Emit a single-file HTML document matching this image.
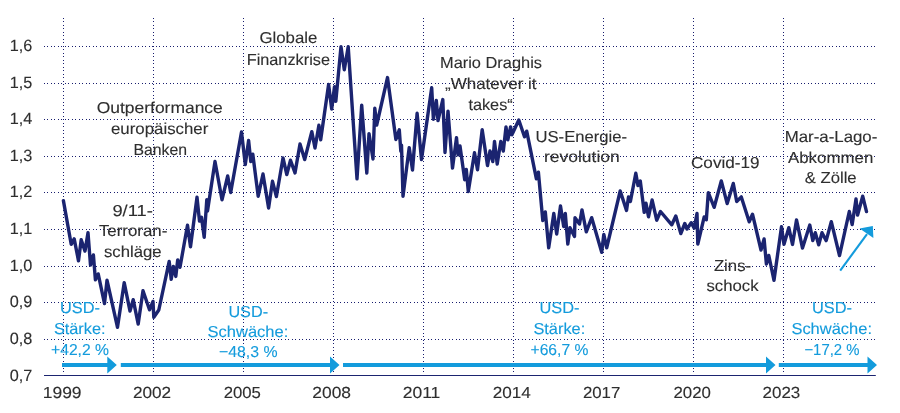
<!DOCTYPE html><html lang="de"><head><meta charset="utf-8"><title>EUR/USD</title>
<style>html,body{margin:0;padding:0;background:#fff}svg{display:block}text{font-family:"Liberation Sans",sans-serif;text-rendering:geometricPrecision;stroke-width:0.12px;paint-order:stroke}</style></head><body>
<svg width="900" height="413" viewBox="0 0 900 413">
<rect width="900" height="413" fill="#fff"/>
<g stroke="#181d6e" stroke-width="1" stroke-dasharray="1 2.5" fill="none" shape-rendering="crispEdges">
<line x1="44" y1="46.5" x2="875.5" y2="46.5" stroke-dasharray="1 2.488"/>
<line x1="44" y1="83.5" x2="875.5" y2="83.5" stroke-dasharray="1 2.488"/>
<line x1="44" y1="119.5" x2="875.5" y2="119.5" stroke-dasharray="1 2.488"/>
<line x1="44" y1="156.5" x2="875.5" y2="156.5" stroke-dasharray="1 2.488"/>
<line x1="44" y1="192.5" x2="875.5" y2="192.5" stroke-dasharray="1 2.488"/>
<line x1="44" y1="229.5" x2="875.5" y2="229.5" stroke-dasharray="1 2.488"/>
<line x1="44" y1="266.5" x2="875.5" y2="266.5" stroke-dasharray="1 2.488"/>
<line x1="44" y1="302.5" x2="875.5" y2="302.5" stroke-dasharray="1 2.488"/>
<line x1="44" y1="339.5" x2="875.5" y2="339.5" stroke-dasharray="1 2.488"/>
<line x1="63.5" y1="17.75" x2="63.5" y2="376"/>
<line x1="153.5" y1="17.75" x2="153.5" y2="376"/>
<line x1="243.5" y1="17.75" x2="243.5" y2="376"/>
<line x1="333.5" y1="17.75" x2="333.5" y2="376"/>
<line x1="423.5" y1="17.75" x2="423.5" y2="376"/>
<line x1="513.5" y1="17.75" x2="513.5" y2="376"/>
<line x1="603.5" y1="17.75" x2="603.5" y2="376"/>
<line x1="693.5" y1="17.75" x2="693.5" y2="376"/>
<line x1="783.5" y1="17.75" x2="783.5" y2="376"/>
</g>
<line x1="44" y1="375.45" x2="875.8" y2="375.45" stroke="#1b2470" stroke-width="1.15"/>
<g fill="#2e2e2e" stroke="#2e2e2e">
<text x="9.70" y="51.00" font-size="16.3" textLength="22.60" lengthAdjust="spacingAndGlyphs">1,6</text>
<text x="9.70" y="88.00" font-size="16.3" textLength="22.60" lengthAdjust="spacingAndGlyphs">1,5</text>
<text x="9.70" y="124.00" font-size="16.3" textLength="22.60" lengthAdjust="spacingAndGlyphs">1,4</text>
<text x="9.70" y="161.00" font-size="16.3" textLength="22.60" lengthAdjust="spacingAndGlyphs">1,3</text>
<text x="9.70" y="197.00" font-size="16.3" textLength="22.60" lengthAdjust="spacingAndGlyphs">1,2</text>
<text x="9.70" y="234.00" font-size="16.3" textLength="22.60" lengthAdjust="spacingAndGlyphs">1,1</text>
<text x="9.70" y="271.00" font-size="16.3" textLength="22.60" lengthAdjust="spacingAndGlyphs">1,0</text>
<text x="9.70" y="307.00" font-size="16.3" textLength="22.60" lengthAdjust="spacingAndGlyphs">0,9</text>
<text x="9.70" y="344.00" font-size="16.3" textLength="22.60" lengthAdjust="spacingAndGlyphs">0,8</text>
<text x="9.70" y="380.50" font-size="16.3" textLength="22.60" lengthAdjust="spacingAndGlyphs">0,7</text>
<text x="42.70" y="398.35" font-size="16.0" textLength="38.89" lengthAdjust="spacingAndGlyphs">1999</text>
<text x="132.90" y="398.35" font-size="16.0" textLength="38.19" lengthAdjust="spacingAndGlyphs">2002</text>
<text x="223.70" y="398.35" font-size="16.0" textLength="37.19" lengthAdjust="spacingAndGlyphs">2005</text>
<text x="312.30" y="398.35" font-size="16.0" textLength="38.69" lengthAdjust="spacingAndGlyphs">2008</text>
<text x="402.70" y="398.35" font-size="16.0" textLength="37.61" lengthAdjust="spacingAndGlyphs">2011</text>
<text x="492.70" y="398.35" font-size="16.0" textLength="38.09" lengthAdjust="spacingAndGlyphs">2014</text>
<text x="582.90" y="398.35" font-size="16.0" textLength="37.39" lengthAdjust="spacingAndGlyphs">2017</text>
<text x="673.50" y="398.35" font-size="16.0" textLength="37.39" lengthAdjust="spacingAndGlyphs">2020</text>
<text x="762.60" y="398.35" font-size="16.0" textLength="37.69" lengthAdjust="spacingAndGlyphs">2023</text>
<text x="96.70" y="113.05" font-size="15.85" textLength="126.11" lengthAdjust="spacingAndGlyphs">Outperformance</text>
<text x="111.00" y="133.85" font-size="15.85" textLength="97.32" lengthAdjust="spacingAndGlyphs">europäischer</text>
<text x="133.40" y="154.65" font-size="15.85" textLength="53.63" lengthAdjust="spacingAndGlyphs">Banken</text>
<text x="112.40" y="215.75" font-size="15.85" textLength="40.40" lengthAdjust="spacingAndGlyphs">9/11-</text>
<text x="98.90" y="236.25" font-size="15.85" textLength="68.43" lengthAdjust="spacingAndGlyphs">Terroran-</text>
<text x="103.90" y="256.75" font-size="15.85" textLength="57.73" lengthAdjust="spacingAndGlyphs">schläge</text>
<text x="259.40" y="43.45" font-size="15.85" textLength="57.93" lengthAdjust="spacingAndGlyphs">Globale</text>
<text x="246.70" y="64.65" font-size="15.85" textLength="83.27" lengthAdjust="spacingAndGlyphs">Finanzkrise</text>
<text x="440.00" y="68.45" font-size="15.85" textLength="101.99" lengthAdjust="spacingAndGlyphs">Mario Draghis</text>
<text x="445.00" y="89.25" font-size="15.85" textLength="91.60" lengthAdjust="spacingAndGlyphs">„Whatever it</text>
<text x="468.40" y="109.65" font-size="15.85" textLength="44.37" lengthAdjust="spacingAndGlyphs">takes“</text>
<text x="535.50" y="142.15" font-size="15.85" textLength="91.54" lengthAdjust="spacingAndGlyphs">US-Energie-</text>
<text x="543.90" y="162.45" font-size="15.85" textLength="75.92" lengthAdjust="spacingAndGlyphs">revolution</text>
<text x="691.00" y="168.05" font-size="15.85" textLength="68.54" lengthAdjust="spacingAndGlyphs">Covid-19</text>
<text x="713.90" y="270.75" font-size="15.85" textLength="37.24" lengthAdjust="spacingAndGlyphs">Zins-</text>
<text x="706.40" y="291.25" font-size="15.85" textLength="52.16" lengthAdjust="spacingAndGlyphs">schock</text>
<text x="784.70" y="142.45" font-size="15.85" textLength="92.64" lengthAdjust="spacingAndGlyphs">Mar-a-Lago-</text>
<text x="788.00" y="162.95" font-size="15.85" textLength="85.26" lengthAdjust="spacingAndGlyphs">Abkommen</text>
<text x="804.70" y="183.45" font-size="15.85" textLength="51.94" lengthAdjust="spacingAndGlyphs">&amp; Zölle</text>
</g>
<g fill="#139bdc" stroke="#139bdc">
<text x="60.00" y="312.95" font-size="15.85" textLength="39.99" lengthAdjust="spacingAndGlyphs">USD-</text>
<text x="53.90" y="333.75" font-size="15.85" textLength="51.67" lengthAdjust="spacingAndGlyphs">Stärke:</text>
<text x="51.00" y="354.65" font-size="15.85" textLength="58.04" lengthAdjust="spacingAndGlyphs">+42,2 %</text>
<text x="228.40" y="316.65" font-size="15.85" textLength="39.69" lengthAdjust="spacingAndGlyphs">USD-</text>
<text x="207.50" y="337.05" font-size="15.85" textLength="80.83" lengthAdjust="spacingAndGlyphs">Schwäche:</text>
<text x="218.90" y="357.25" font-size="15.85" textLength="58.64" lengthAdjust="spacingAndGlyphs">−48,3 %</text>
<text x="539.40" y="312.95" font-size="15.85" textLength="40.09" lengthAdjust="spacingAndGlyphs">USD-</text>
<text x="533.40" y="333.75" font-size="15.85" textLength="51.87" lengthAdjust="spacingAndGlyphs">Stärke:</text>
<text x="530.50" y="354.65" font-size="15.85" textLength="57.84" lengthAdjust="spacingAndGlyphs">+66,7 %</text>
<text x="811.90" y="312.95" font-size="15.85" textLength="40.09" lengthAdjust="spacingAndGlyphs">USD-</text>
<text x="791.40" y="333.75" font-size="15.85" textLength="80.63" lengthAdjust="spacingAndGlyphs">Schwäche:</text>
<text x="804.40" y="354.65" font-size="15.85" textLength="55.13" lengthAdjust="spacingAndGlyphs">−17,2 %</text>
</g>
<path d="M62 363.1H107.3V356.5L116.8 365.0L107.3 373.5V366.9H62Z" fill="#139bdc"/>
<path d="M120.8 363.1H330.0V356.5L339.5 365.0L330.0 373.5V366.9H120.8Z" fill="#139bdc"/>
<path d="M343 363.1H766.0V356.5L775.5 365.0L766.0 373.5V366.9H343Z" fill="#139bdc"/>
<path d="M778.8 363.1H867.5V356.5L877 365.0L867.5 373.5V366.9H778.8Z" fill="#139bdc"/>
<path d="M840.2 270.6L867 234.2" stroke="#139bdc" stroke-width="2.1" fill="none"/>
<path d="M872.8 226L873.4 238L859.6 228.4Z" fill="#139bdc"/>
<path d="M63.4 200.6 L71.2 244.3 L74.2 238.9 L78.5 260.8 L81.2 239.7 L85.0 251.1 L88.0 232.7 L90.5 265.1 L93.4 254.9 L95.4 279.8 L98.2 273.9 L104.5 303.6 L107.0 280.2 L117.5 327.3 L124.2 282.7 L130.0 311.1 L133.2 299.7 L138.2 324.1 L143.0 290.7 L149.5 309.8 L153.0 301.4 L153.8 317.3 L158.8 310.0 L169.2 261.4 L171.2 279.3 L173.4 266.4 L175.8 276.4 L177.7 259.9 L180.0 267.3 L187.5 225.2 L190.5 246.8 L197.0 197.2 L199.5 221.1 L201.5 217.2 L204.2 237.3 L206.8 199.7 L207.5 211.1 L215.0 161.5 L222.0 199.8 L227.7 176.0 L230.7 192.5 L241.5 132.0 L245.3 164.5 L248.6 140.5 L250.8 161.5 L252.8 154.2 L258.2 196.2 L263.0 174.0 L268.6 208.0 L272.5 181.3 L276.4 196.5 L283.0 158.0 L286.8 174.5 L290.5 160.2 L295.0 172.9 L300.0 144.0 L304.7 159.5 L311.8 131.7 L315.0 148.0 L318.9 125.3 L320.7 139.7 L328.6 84.5 L331.7 109.0 L334.5 86.8 L335.8 101.4 L341.0 46.7 L344.3 69.8 L348.2 46.7 L357.0 178.8 L361.7 105.1 L366.8 173.0 L369.0 133.6 L373.0 159.0 L374.8 108.3 L376.7 125.0 L387.5 77.6 L395.9 139.5 L399.3 129.8 L400.8 151.2 L401.5 145.1 L403.0 196.2 L409.2 147.6 L412.5 170.0 L417.1 113.3 L421.5 159.5 L431.7 87.8 L433.4 119.2 L436.3 100.5 L438.0 120.5 L442.8 99.6 L445.0 152.5 L448.0 111.2 L452.5 168.1 L456.5 137.7 L458.0 154.8 L460.0 146.0 L464.7 179.8 L466.3 169.4 L468.3 191.5 L474.5 152.7 L477.5 169.8 L482.2 129.7 L487.5 165.6 L490.0 151.0 L492.8 161.5 L494.5 141.4 L497.2 164.0 L500.8 141.4 L503.3 151.1 L506.0 126.9 L507.8 139.8 L510.6 126.9 L511.9 134.8 L518.8 120.0 L524.5 136.8 L526.7 131.2 L536.4 178.8 L538.4 172.2 L542.8 220.6 L545.3 211.9 L548.7 247.8 L553.8 213.5 L556.7 234.0 L560.5 206.0 L563.7 226.5 L565.3 213.5 L567.8 244.0 L570.0 227.7 L574.5 236.5 L575.0 217.7 L579.5 224.0 L582.0 209.9 L586.3 231.8 L591.7 217.7 L601.7 252.3 L603.8 234.4 L606.7 247.8 L620.2 191.0 L626.5 210.4 L628.5 196.9 L630.4 201.5 L635.8 173.2 L638.0 185.6 L640.3 181.0 L644.2 212.3 L646.0 203.2 L648.5 216.8 L652.1 200.0 L656.7 220.2 L660.5 211.5 L671.8 224.8 L675.8 216.0 L680.8 233.6 L684.8 223.5 L687.0 229.0 L691.2 222.7 L694.2 228.1 L697.0 213.5 L697.8 244.0 L704.2 216.9 L706.3 219.8 L708.3 192.7 L714.2 207.3 L721.3 181.0 L727.2 203.6 L733.3 183.5 L736.7 201.5 L741.3 196.9 L749.2 221.8 L752.5 214.2 L761.0 250.0 L764.1 239.0 L766.4 264.1 L768.8 255.5 L774.0 280.3 L781.5 226.7 L784.0 244.4 L788.8 227.7 L792.5 244.4 L796.5 219.9 L802.5 248.1 L809.8 225.0 L812.8 240.6 L815.3 232.7 L818.7 244.8 L822.0 232.7 L826.2 240.6 L831.3 221.7 L839.5 255.6 L849.3 211.5 L852.2 224.6 L856.0 198.9 L857.6 215.0 L862.7 196.2 L866.5 211.6" fill="none" stroke="#1b2470" stroke-width="3.4" stroke-linejoin="round" stroke-linecap="round"/>
</svg></body></html>
